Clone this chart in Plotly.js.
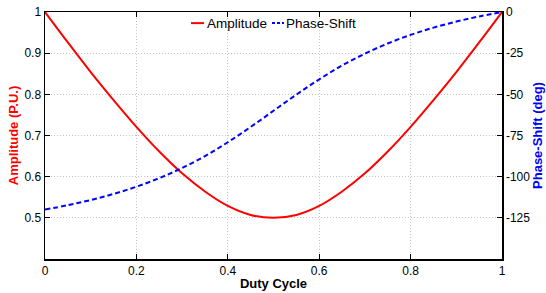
<!DOCTYPE html>
<html><head><meta charset="utf-8">
<script src="https://cdn.plot.ly/plotly-3.0.1.min.js"></script>
<style>body{margin:0;background:#fff}#c{width:546px;height:293px}</style>
</head><body><div id="c"></div>
<script>
const duty = [0,0.05,0.1,0.15,0.2,0.25,0.3,0.35,0.4,0.45,0.5,0.55,0.6,0.65,0.7,0.75,0.8,0.85,0.9,0.95,1];
const amplitude = [1,0.926,0.854,0.786,0.721,0.661,0.608,0.564,0.529,0.507,0.5,0.507,0.529,0.564,0.608,0.661,0.721,0.786,0.854,0.926,1];
const phaseShift = [-120,-117.3,-114.2,-110.5,-106.1,-100.9,-94.7,-87.5,-79.1,-69.8,-60,-50.2,-40.9,-32.5,-25.3,-19.1,-13.9,-9.5,-5.8,-2.7,0];
const xTicks = [0,0.2,0.4,0.6,0.8,1];
const xTickText = ['0','0.2','0.4','0.6','0.8','1'];
const yTicks = [0.5,0.6,0.7,0.8,0.9,1];
const yTickText = ['0.5','0.6','0.7','0.8','0.9','1'];
const y2Ticks = [-125,-100,-75,-50,-25,0];
const y2TickText = ['-125','-100','-75','-50','-25','0'];
const seriesNames = ['Amplitude','Phase-Shift'];
const seriesColors = ['#ff0000','#0000ff'];

const fam = 'Liberation Sans, Arial, sans-serif';
const font = {family:fam, size:12, color:'#000'};
const traces = [
  {x:duty, y:amplitude, name:seriesNames[0], type:'scatter', mode:'lines', line:{color:seriesColors[0], width:2, shape:'spline', smoothing:1}, yaxis:'y'},
  {x:duty, y:phaseShift, name:seriesNames[1], type:'scatter', mode:'lines', line:{color:seriesColors[1], width:2, dash:'5px,3px', shape:'spline', smoothing:1}, yaxis:'y2'}
];
// manual legend (MATLAB style, short line samples)
const legY = 0.955;
const legend = [
  {x0:0.3195, x1:0.348, text:0.3545},
  {x0:0.4967, x1:0.523, text:0.5274}
];
const shapes = legend.map((l,i)=>({type:'line', xref:'paper', yref:'paper', x0:l.x0, x1:l.x1, y0:legY, y1:legY,
  line:{color:seriesColors[i], width:2, dash: i===1 ? '3px,2px' : 'solid'}}));
const annotations = legend.map((l,i)=>({xref:'paper', yref:'paper', x:l.text, y:legY, xanchor:'left', yanchor:'middle',
  text:seriesNames[i], showarrow:false, font:{family:fam, size:13.5, color:'#000'}, xshift:-2}));
const gridStyle = {showgrid:true, gridcolor:'#c4c4c4', griddash:'1px,2px', gridwidth:1};
const layout = {
  width:546, height:293,
  margin:{l:45, r:44, t:12, b:34},
  paper_bgcolor:'#fff', plot_bgcolor:'#fff',
  font:font,
  showlegend:false,
  shapes:shapes, annotations:annotations,
  xaxis:Object.assign({range:[0,1], tickvals:xTicks, ticktext:xTickText, ticks:'inside', ticklen:5, tickcolor:'#000',
    showline:true, linecolor:'#000', linewidth:1.5, mirror:'ticks', zeroline:false,
    title:{text:'Duty Cycle', font:{family:fam, size:13, color:'#000', weight:'bold'}, standoff:2}}, gridStyle),
  yaxis:Object.assign({range:[0.4,1], tickvals:yTicks, ticktext:yTickText, ticks:'inside', ticklen:5, tickcolor:'#000',
    showline:true, linecolor:'#000', linewidth:1.5, zeroline:false,
    title:{text:'Amplitude (P.U.)', font:{family:fam, size:13, color:'#ff0000', weight:'bold'}, standoff:3}}, gridStyle),
  yaxis2:{range:[-150,0], overlaying:'y', side:'right', tickvals:y2Ticks, ticktext:y2TickText, ticks:'inside', ticklen:5, tickcolor:'#000',
    showline:true, linecolor:'#000', linewidth:1.5, showgrid:false, zeroline:false,
    title:{text:'Phase-Shift (deg)', font:{family:fam, size:13, color:'#0000ff', weight:'bold'}, standoff:3}}
};
Plotly.newPlot('c', traces, layout, {displayModeBar:false, staticPlot:true});
</script></body></html>
